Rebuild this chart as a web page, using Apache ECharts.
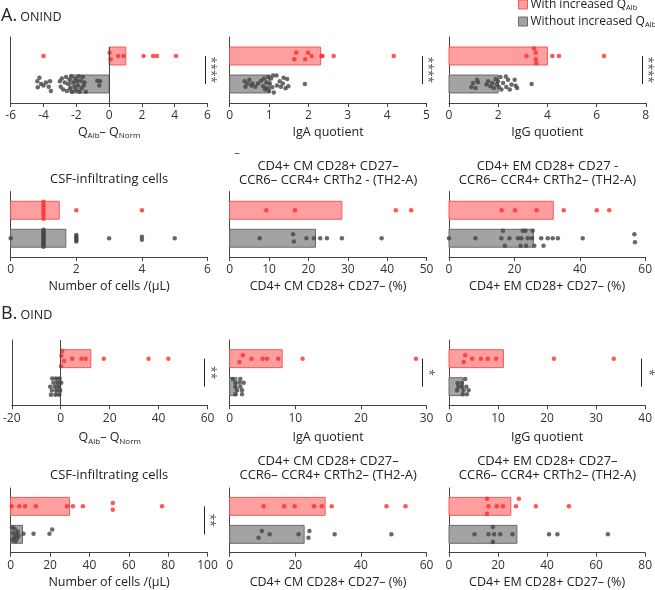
<!DOCTYPE html>
<html><head><meta charset="utf-8">
<script src="https://cdn.jsdelivr.net/npm/echarts@6/dist/echarts.min.js"></script>
<style>html,body{margin:0;padding:0;background:#fff}#c{width:655px;height:590px}</style>
</head><body><div id="c"></div>
<script>
// ---------------- DATA ----------------
const groupNames = ['With increased QAlb', 'Without increased QAlb'];
// axis ranges [min, max, interval]
const axisA = [[-6, 6, 2], [0, 5, 1], [0, 8, 2], [0, 6, 2], [0, 50, 10], [0, 60, 20]];
const axisB = [[-20, 60, 20], [0, 30, 10], [0, 40, 10], [0, 100, 20], [0, 60, 20], [0, 80, 20]];
const axisNames = ['QALB', 'IgA quotient', 'IgG quotient', 'Number of cells /(µL)', 'CD4+ CM CD28+ CD27– (%)', 'CD4+ EM CD28+ CD27– (%)'];
const titlesA = ['', '', '', 'CSF-infiltrating cells', 'CD4+ CM CD28+ CD27–\nCCR6– CCR4+ CRTh2 - (TH2-A)', 'CD4+ EM CD28+ CD27 -\nCCR6– CCR4+ CRTh2– (TH2-A)'];
const titlesB = ['', '', '', 'CSF-infiltrating cells', 'CD4+ CM CD28+ CD27–\nCCR6– CCR4+ CRTh2– (TH2-A)', 'CD4+ EM CD28+ CD27–\nCCR6– CCR4+ CRTh2– (TH2-A)'];
const sigA = ['****', '****', '****', '', '', ''];
const sigB = ['**', '*', '*', '**', '', ''];

// bar values [with increased, without increased]
const barsA1 = [1.02, -2.39];
const barsA2 = [2.31, 1.02];
const barsA3 = [4.0, 2.0];
const barsA4 = [1.48, 1.68];
const barsA5 = [28.5, 21.8];
const barsA6 = [31.9, 25.8];
const barsB1 = [12.3, -2.0];
const barsB2 = [8.0, 1.1];
const barsB3 = [11.1, 2.85];
const barsB4 = [29.9, 6.0];
const barsB5 = [29.1, 22.7];
const barsB6 = [25.2, 27.7];

// points [value, jitter]
const redA1 = [[-4.0,0],[0.03,0.12],[0.1,-0.12],[0.55,0],[0.88,0],[2.1,0],[2.68,0],[2.92,0],[4.08,0]];
const grayA1 = [[-4.38,0.1],[-4.35,-0.12],[-4.25,0.22],[-4.15,0],[-4.0,-0.05],[-3.85,0.05],[-3.68,-0.1],[-3.6,0.1],[-3.55,-0.25],
 [-3.0,0.1],[-2.95,-0.1],[-2.88,0.2],[-2.8,-0.2],[-2.7,0.05],[-2.62,0.25],[-2.58,-0.25],[-2.5,0],[-2.42,0.15],[-2.38,-0.15],[-2.3,0.28],
 [-2.25,-0.28],[-2.18,0.05],[-2.1,-0.1],[-2.05,0.2],[-2.0,-0.22],[-1.95,0.1],[-1.9,-0.05],[-1.85,0.28],[-1.8,-0.28],[-1.72,0.12],
 [-1.68,-0.15],[-1.6,0.25],[-1.55,-0.05],[-1.5,0.05],[-1.42,-0.28],[-0.72,0.12],[-0.6,-0.05],[-0.55,0.1]];
const redA2 = [[1.64,-0.12],[1.69,0.12],[1.92,-0.12],[1.99,0.12],[2.08,0],[2.33,0],[2.36,0],[2.64,0],[4.17,0]];
const grayA2 = [[0.38,0.1],[0.4,-0.1],[0.45,0.02],[0.5,0.15],[0.55,-0.05],[0.58,0.02],[0.65,-0.1],[0.72,0.02],[0.8,0.12],[0.85,-0.08],
 [0.87,0.2],[0.9,-0.2],[0.93,0.05],[0.95,-0.15],[0.98,0.25],[1.0,-0.25],[1.02,0.02],[1.05,0.2],[1.08,-0.12],[1.1,0.3],[1.12,-0.3],
 [1.19,0.3],[1.2,-0.05],[1.27,0.1],[1.3,-0.1],[1.35,0.02],[1.37,0.22],[1.42,-0.15],[1.46,0.18],[1.49,-0.08],[1.91,0]];
const redA3 = [[3.46,0.27],[3.53,0.12],[3.15,0],[3.53,-0.12],[3.55,-0.26],[4.2,0],[4.47,0],[6.3,0]];
const grayA3 = [[0.91,-0.11],[0.98,0.04],[1.08,-0.14],[1.14,0.15],[1.18,0.06],[1.52,-0.02],[1.59,0.1],[1.68,-0.08],[1.76,0.04],[1.82,-0.14],
 [1.9,0.18],[1.95,-0.02],[1.99,0.1],[2.03,-0.11],[2.09,0.25],[2.13,-0.2],[2.2,0.04],[2.31,0.27],[2.33,-0.11],[2.4,0.15],[2.47,-0.2],
 [2.54,-0.02],[2.67,0.15],[2.71,-0.06],[2.77,-0.14],[3.36,0]];
const redA4 = [[1,-0.3],[1,-0.2],[1,-0.1],[1,0],[1,0.1],[1,0.2],[1,0.3],[2,0],[4,0]];
const grayA4 = [[0,0],[1,-0.3],[1,-0.25],[1,-0.2],[1,-0.15],[1,-0.1],[1,-0.05],[1,0],[1,0.05],[1,0.1],[1,0.15],[1,0.2],[1,0.25],[1,0.3],
 [2,-0.12],[2,-0.06],[2,0],[2,0.06],[2,0.12],[3,0],[4,-0.05],[4,0.05],[5,0]];
const redA5 = [[9.3,0],[16.6,0],[42.2,0],[46.1,0]];
const grayA5 = [[7.6,0],[16.1,0.14],[16.3,-0.12],[19.5,0],[21.4,0],[23.0,0],[24.7,0],[28.5,0],[38.6,0]];
const redA6 = [[16.1,0],[20.2,0],[26.8,0],[35.1,0],[45.2,0],[49.0,0]];
const grayA6 = [[0,0],[8.1,0],[16.0,0],[16.5,0.27],[17.1,-0.27],[18.5,0],[21.1,0],[22.1,0],[21.9,-0.27],[22.6,0.27],[23.4,0.27],
 [23.6,-0.27],[24.1,0],[25.6,0.27],[25.4,0],[26.1,-0.27],[28.2,0],[28.9,-0.27],[30.2,0],[31.7,0],[33.3,0],[40.9,0],[56.7,0.14],[56.9,-0.14]];
const redB1 = [[0.6,0.27],[0.3,0.1],[1.4,-0.08],[0.1,-0.27],[4.7,0],[8.5,0],[10.2,0],[17.6,0],[35.9,0],[44.0,0]];
const grayB1 = [[-3.5,0.29],[-2.0,0.29],[-0.5,0.29],[-3.0,0.14],[-1.2,0.14],[0.2,0.14],[-4.3,0],[-2.5,0],[-0.8,0],[-3.6,-0.14],
 [-1.8,-0.14],[-0.2,-0.14],[-4.0,-0.29],[-2.2,-0.29],[-0.6,-0.29]];
const redB2 = [[1.5,-0.12],[2.0,0.12],[3.3,0],[5.0,0],[5.7,0],[7.4,0],[11.1,0],[28.4,0]];
const grayB2 = [[0.5,0.27],[1.62,0.27],[0.86,0.14],[1.52,0.14],[2.13,0.14],[0.86,0],[1.62,0],[1.12,-0.13],[1.88,-0.13],[0.86,-0.27],[1.88,-0.27]];
const redB3 = [[3.0,-0.12],[3.3,0.12],[4.7,0],[6.5,0],[7.9,0],[9.6,0],[21.4,0],[33.6,0]];
const grayB3 = [[1.63,-0.13],[1.76,0.13],[2.64,0.13],[2.64,0],[3.32,0.27],[3.53,0],[2.98,-0.13],[4.0,-0.13],[3.66,-0.27],[2.85,-0.27],[1.9,0]];
const redB4 = [[0.5,0],[4.4,0],[7.3,0],[12.8,0],[28.6,0],[31.6,0],[36.7,0],[51.9,0.12],[51.9,-0.12],[76.9,0]];
const grayB4 = [[0.7,0.25],[2.0,0.2],[3.5,0.1],[1.2,0.05],[2.8,0],[4.0,-0.05],[1.8,-0.1],[3.2,-0.15],[0.9,-0.2],[2.4,-0.25],
 [6.5,0.02],[11.6,0.02],[19.7,0.02],[21.1,0.17]];
const redB5 = [[10.3,0],[16.6,0],[19.8,0],[25.7,0],[28.1,0],[31.1,0],[47.8,0],[53.6,0]];
const grayB5 = [[8.8,-0.12],[9.8,0.12],[12.2,0],[21.0,0],[24.3,0.12],[24.0,-0.12],[32.0,0],[49.3,0]];
const redB6 = [[15.5,0.27],[16.1,0],[15.5,-0.26],[19.5,0],[22.0,0],[27.3,0],[28.5,0.27],[35.4,0],[48.9,0]];
const grayB6 = [[10.4,0],[16.1,0],[17.9,0.26],[18.4,0],[17.9,-0.27],[20.9,0],[25.9,0],[40.8,0],[44.2,0],[64.8,0]];

// ---------------- LAYOUT / STYLE ----------------
const FONT = "'Open Sans', sans-serif";
const RED_FILL = '#ff9e9e', RED_LINE = '#f05a5a', RED_DOT = '#ff2a2a';
const GRAY_FILL = '#a3a3a3', GRAY_LINE = '#6a6a6a', GRAY_DOT = '#444444';
const AX = '#444';
const colLeft = [10.7, 229.7, 449];
const colW = 196.8;
const rowTop = [37, 191.5, 340, 488];
const rowH = [66, 65.5, 65.3, 64.7];
const rowNameExtra = [0, 0, 3, 0];
// significance bar x positions (data units) [line, stars]
const sigPosA = [[5.84, 6.2], [4.89, 5.02], [7.86, 8.06]];
const sigPosB = [[58.6, 61.2], [29.4, 30.3], [39.3, 40.6], [98.3, 100.8]];
// zero-line top (in y units) per panel with negative range
const zeroTop = {0: 1.32, 6: null};

const panels = [
  {bars: barsA1, red: redA1, gray: grayA1}, {bars: barsA2, red: redA2, gray: grayA2}, {bars: barsA3, red: redA3, gray: grayA3},
  {bars: barsA4, red: redA4, gray: grayA4}, {bars: barsA5, red: redA5, gray: grayA5}, {bars: barsA6, red: redA6, gray: grayA6},
  {bars: barsB1, red: redB1, gray: grayB1}, {bars: barsB2, red: redB2, gray: grayB2}, {bars: barsB3, red: redB3, gray: grayB3},
  {bars: barsB4, red: redB4, gray: grayB4}, {bars: barsB5, red: redB5, gray: grayB5}, {bars: barsB6, red: redB6, gray: grayB6}
];
const axes = axisA.concat(axisB);
const sigs = sigA.concat(sigB);
const sigPos = sigPosA.concat([null, null, null], sigPosB, [null, null]);

const richName = {
  n: {fontSize: 12.5, fontFamily: FONT, color: '#222', lineHeight: 16, verticalAlign: 'middle'},
  s: {fontSize: 8, fontFamily: FONT, color: '#222', lineHeight: 7, verticalAlign: 'bottom'}
};

const grid = [], xAxis = [], yAxis = [], series = [];
panels.forEach((p, i) => {
  const r = Math.floor(i / 3), c = i % 3;
  const h = rowH[r];
  const half = (h - 28) / 2 / 28;
  grid.push({left: colLeft[c], top: rowTop[r], width: colW, height: h, containLabel: false});
  const a = axes[i];
  const nm = axisNames[i % 6];
  xAxis.push({
    type: 'value', gridIndex: i, min: a[0], max: a[1], interval: a[2],
    axisLine: {show: true, onZero: false, lineStyle: {color: AX, width: 1}},
    axisTick: {show: true, length: 4, lineStyle: {color: AX}},
    axisLabel: {fontSize: 12, color: '#333', margin: 7, fontFamily: FONT},
    splitLine: {show: false},
    name: nm === 'QALB' ? '{n|Q}{s|Alb}{n|– Q}{s|Norm}' : nm,
    nameLocation: 'middle', nameGap: (nm === 'QALB' ? 21 : 23) + rowNameExtra[r],
    nameTextStyle: nm === 'QALB' ? {rich: richName, fontFamily: FONT, fontSize: 12.5}
                                 : {fontFamily: FONT, fontSize: 12.5, color: '#222'}
  });
  yAxis.push({
    type: 'value', gridIndex: i, min: -half, max: 1 + half,
    axisLine: {show: true, onZero: false, lineStyle: {color: AX, width: 1}},
    axisTick: {show: false}, axisLabel: {show: false}, splitLine: {show: false}
  });
  const mk = (val, cat, name, fill, stroke) => ({
    type: 'custom', name, xAxisIndex: i, yAxisIndex: i, z: 2, silent: true,
    itemStyle: {color: fill, borderColor: stroke},
    data: [[val, cat]],
    renderItem(params, api) {
      const v = api.value(0), cc = api.value(1);
      const p0 = api.coord([0, cc + 0.32]);
      const p1 = api.coord([v, cc - 0.32]);
      return {type: 'rect', shape: {x: Math.min(p0[0], p1[0]), y: p0[1], width: Math.abs(p1[0] - p0[0]), height: p1[1] - p0[1]},
        style: {fill, stroke, lineWidth: 1}};
    }
  });
  series.push(mk(p.bars[0], 1, groupNames[0], RED_FILL, RED_LINE));
  series.push(mk(p.bars[1], 0, groupNames[1], GRAY_FILL, GRAY_LINE));
  const grayS = {
    type: 'scatter', name: groupNames[1], xAxisIndex: i, yAxisIndex: i, z: 3, silent: true, clip: false,
    symbolSize: 4.5, itemStyle: {color: GRAY_DOT},
    data: p.gray.map(d => [d[0], 0 + d[1]])
  };
  if (a[0] < 0) {
    const topY = zeroTop[i] != null ? zeroTop[i] : 1 + half;
    grayS.markLine = {symbol: 'none', silent: true, label: {show: false}, animation: false,
      lineStyle: {color: AX, type: 'solid', width: 1},
      data: [[{coord: [0, topY]}, {coord: [0, -half]}]]};
  }
  series.push(grayS);
  series.push({
    type: 'scatter', name: groupNames[0], xAxisIndex: i, yAxisIndex: i, z: 3, silent: true, clip: false,
    symbolSize: 4.5, itemStyle: {color: RED_DOT},
    data: p.red.map(d => [d[0], 1 + d[1]])
  });
  if (sigs[i]) {
    const sp = sigPos[i];
    series.push({
      type: 'scatter', name: 'sig' + i, xAxisIndex: i, yAxisIndex: i, z: 4, silent: true, clip: false,
      symbolSize: 0, data: [[sp[1], 0.5]],
      label: {show: true, formatter: sigs[i], rotate: -90, position: 'inside', fontSize: 12, color: '#222', fontFamily: FONT},
      markLine: {symbol: 'none', silent: true, animation: false, label: {show: false},
        lineStyle: {color: '#222', type: 'solid', width: 1},
        data: [[{coord: [sp[0], 1]}, {coord: [sp[0], 0]}]]}
    });
  }
});

const graphic = [
  {type: 'text', left: 1, top: 7, style: {text: '{a|A.}{b| ONIND}', rich: {a: {fontSize: 18, fontFamily: FONT, fill: '#222'}, b: {fontSize: 12.5, fontFamily: FONT, fill: '#222', padding: [3, 0, 0, 0]}}}},
  {type: 'text', left: 1, top: 305, style: {text: '{a|B.}{b| OIND}', rich: {a: {fontSize: 18, fontFamily: FONT, fill: '#222'}, b: {fontSize: 12.5, fontFamily: FONT, fill: '#222', padding: [3, 0, 0, 0]}}}},
  {type: 'text', x: 237, y: 153, style: {text: '–', fontSize: 11, fontFamily: FONT, fill: '#333', textAlign: 'center', textVerticalAlign: 'middle'}}
];
const titleCenterY = [0, 172, 0, 468.5];
[titlesA, titlesB].forEach((ts, k) => {
  ts.forEach((t, j) => {
    if (!t) return;
    const r = k * 2 + 1, c = j % 3;
    const single = t.indexOf('\n') < 0;
    graphic.push({type: 'text', x: colLeft[c] + colW / 2, y: single ? titleCenterY[r] + 7 : titleCenterY[r] + (k === 0 ? 1.5 : 0),
      style: {text: t, fontSize: 13, lineHeight: 13.5, fontFamily: FONT, fill: '#222', textAlign: 'center', textVerticalAlign: 'middle'}});
  });
});

const chart = echarts.init(document.getElementById('c'), null, {renderer: 'canvas'});
chart.setOption({
  animation: false,
  backgroundColor: '#fff',
  textStyle: {fontFamily: FONT},
  legend: {
    data: [
      {name: groupNames[0], icon: 'rect', itemStyle: {color: RED_FILL, borderColor: RED_LINE, borderWidth: 1}},
      {name: groupNames[1], icon: 'rect', itemStyle: {color: GRAY_FILL, borderColor: GRAY_LINE, borderWidth: 1}}
    ],
    orient: 'vertical', left: 518, top: -1.5, padding: 0, itemWidth: 9, itemHeight: 9, itemGap: 4,
    selectedMode: false,
    formatter: name => name === groupNames[0] ? '{n|With increased Q}{s|Alb}' : '{n|Without increased Q}{s|Alb}',
    textStyle: {padding: [0, 0, 0, -2], rich: {
      n: {fontSize: 12, fontFamily: FONT, color: '#222', lineHeight: 14, verticalAlign: 'middle'},
      s: {fontSize: 7.5, fontFamily: FONT, color: '#222', lineHeight: 6, verticalAlign: 'bottom'}
    }}
  },
  grid, xAxis, yAxis, series, graphic
});
</script></body></html>
